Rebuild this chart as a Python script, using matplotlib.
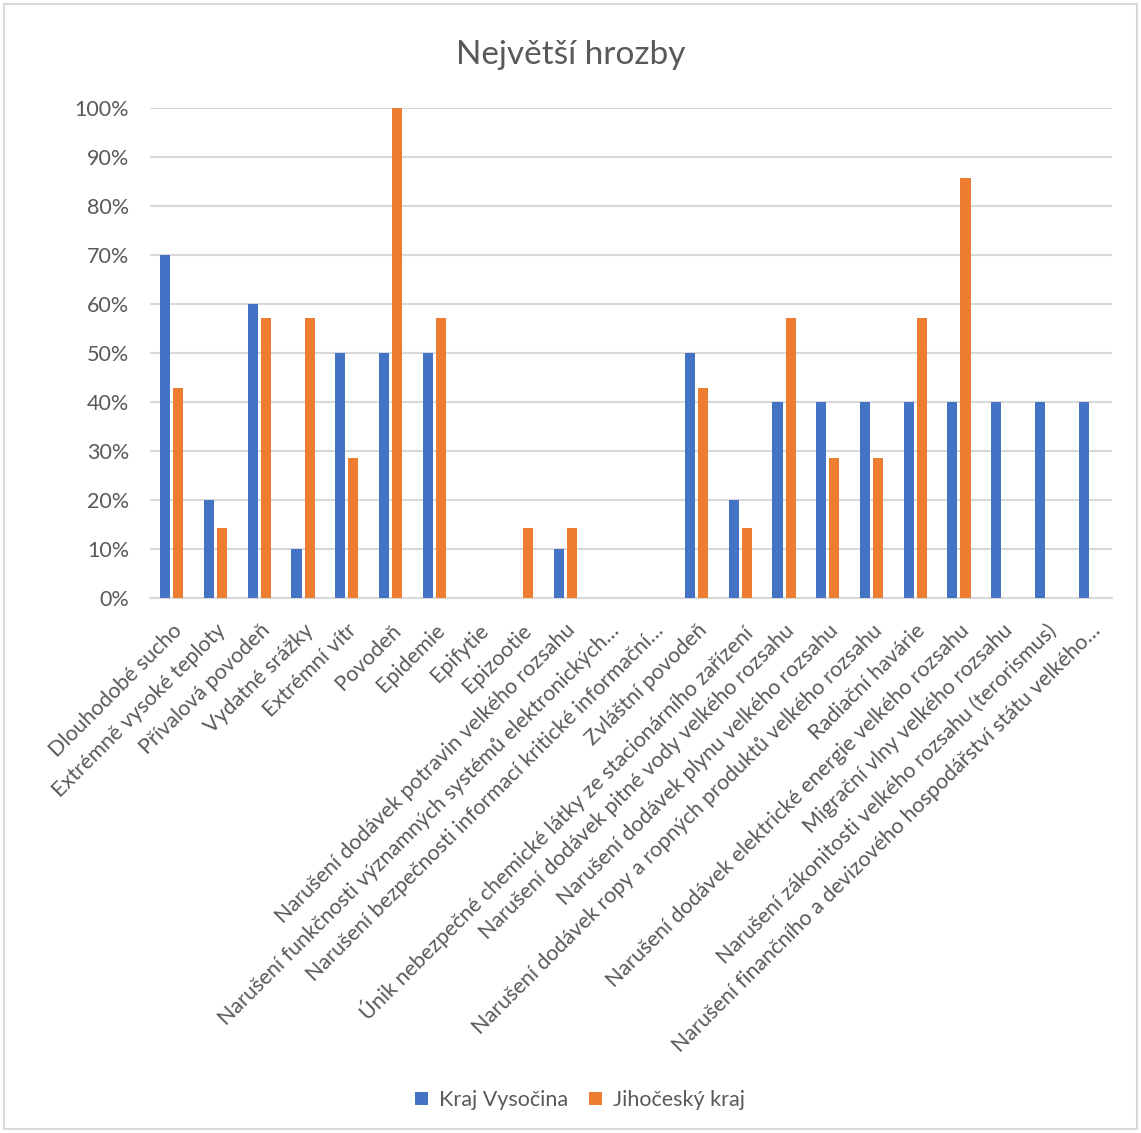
import numpy as np
import matplotlib.pyplot as plt
from matplotlib.patches import Rectangle

plt.rcParams['font.family'] = ['Lato', 'DejaVu Sans']

categories = [
    'Dlouhodobé sucho',
    'Extrémně vysoké teploty',
    'Přívalová povodeň',
    'Vydatné srážky',
    'Extrémní vítr',
    'Povodeň',
    'Epidemie',
    'Epifytie',
    'Epizootie',
    'Narušení dodávek potravin velkého rozsahu',
    'Narušení funkčnosti významných systémů elektronických…',
    'Narušení bezpečnosti informací kritické informační…',
    'Zvláštní povodeň',
    'Únik nebezpečné chemické látky ze stacionárního zařízení',
    'Narušení dodávek pitné vody velkého rozsahu',
    'Narušení dodávek plynu velkého rozsahu',
    'Narušení dodávek ropy a ropných produktů velkého rozsahu',
    'Radiační havárie',
    'Narušení dodávek elektrické energie velkého rozsahu',
    'Migrační vlny velkého rozsahu',
    'Narušení zákonitosti velkého rozsahu (terorismus)',
    'Narušení finančního a devizového hospodářství státu velkého…',
]
vysocina = [70, 20, 60, 10, 50, 50, 50, 0, 0, 10, 0, 0, 50, 20, 40, 40, 40, 40, 40, 40, 40, 40]
jihocesky = [42.86, 14.29, 57.14, 57.14, 28.57, 100, 57.14, 0, 14.29, 14.29, 0, 0,
             42.86, 14.29, 57.14, 28.57, 28.57, 57.14, 85.71, 0, 0, 0]
yticks = [0, 10, 20, 30, 40, 50, 60, 70, 80, 90, 100]

W, H = 1141, 1133
fig = plt.figure(figsize=(W / 100, H / 100), dpi=100)
fig.patches.append(Rectangle((4 / W, 4 / H), 1 - 8 / W, 1 - 8 / H, transform=fig.transFigure,
                             fill=False, edgecolor='#d9d9d9', linewidth=1.5))

ax = fig.add_axes([150 / W, (H - 598) / H, 962 / W, 490 / H])
x = np.arange(len(categories))
bw = 0.23
ax.bar(x - 0.15, vysocina, bw, color='#4472C4', label='Kraj Vysočina', zorder=3)
ax.bar(x + 0.15, jihocesky, bw, color='#ED7D31', label='Jihočeský kraj', zorder=3)

ax.set_xlim(-0.5, len(categories) - 0.5)
ax.set_ylim(0, 100)
ax.set_yticks(yticks)
ax.set_yticklabels([f'{t}%' for t in yticks], fontsize=15.5, color='#595959')
ax.grid(axis='y', color='#d9d9d9', linewidth=1.5, zorder=0)
for s in ['top', 'right', 'left']:
    ax.spines[s].set_visible(False)
ax.spines['bottom'].set_color('#d9d9d9')
ax.spines['bottom'].set_linewidth(1.5)
ax.tick_params(length=0)
ax.tick_params(axis='y', pad=15)
ax.set_xticks(x)
ax.set_xticklabels(categories, rotation=45, ha='right', rotation_mode='anchor',
                   fontsize=15.5, color='#595959')
ax.tick_params(axis='x', pad=16)

fig.text(0.5, 1 - 55 / H, 'Největší hrozby', ha='center', va='center', fontsize=24, color='#595959')
fig.legend(loc='center', bbox_to_anchor=(580 / W, 1 - 1100 / H), ncol=2, frameon=False,
           fontsize=15.5, labelcolor='#595959', handlelength=0.6, handleheight=0.6,
           columnspacing=1.0, handletextpad=0.5)

fig.savefig('out.png', dpi=100, facecolor='white')
